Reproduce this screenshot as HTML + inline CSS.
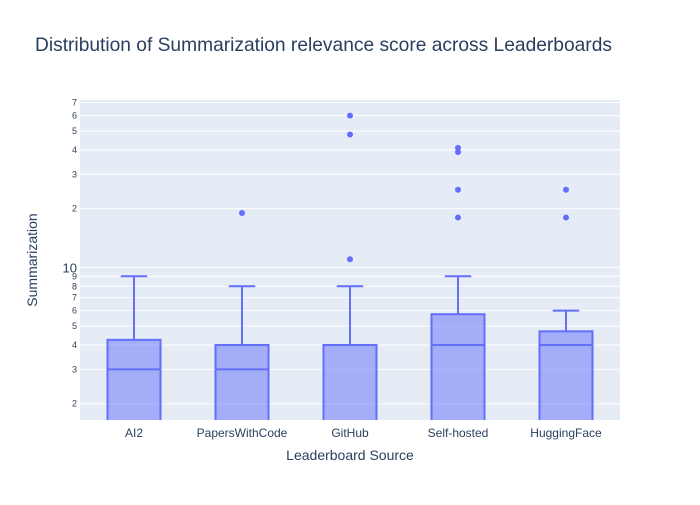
<!DOCTYPE html>
<html><head><meta charset="utf-8"><style>
body{margin:0;background:#fff;font-family:"Liberation Sans",sans-serif}
</style></head><body>
<svg id="c" width="700" height="500" xmlns="http://www.w3.org/2000/svg">
<defs><clipPath id="pc"><rect x="80" y="100" width="540" height="320"/></clipPath></defs>
<rect width="700" height="500" fill="#fff"/>
<text x="35" y="51" font-size="19.2" fill="#2a3f5f">Distribution of Summarization relevance score across Leaderboards</text>
<rect x="80" y="100" width="540" height="320" fill="#e5ecf6"/>
<g id="grid"></g><g id="marks" clip-path="url(#pc)"></g><g id="labels"></g>
<text x="350" y="460" font-size="14" fill="#2a3f5f" text-anchor="middle">Leaderboard Source</text>
<text x="37" y="260" font-size="14" fill="#2a3f5f" text-anchor="middle" transform="rotate(-90 37 260)">Summarization</text>
</svg>
<script>
const categories=["AI2","PapersWithCode","GitHub","Self-hosted","HuggingFace"];
const q1=[1,1,1,1,1];
const medians=[3,3,4,4,4];
const q3=[4.25,4,4,5.75,4.7];
const upperWhisker=[9,8,8,9,6];
const outliers=[[],[19],[60,48,11],[41,39,25,18],[25,18]];
const yTicks=[2,3,4,5,6,7,8,9,10,20,30,40,50,60,70];
const yTickLabels=["2","3","4","5","6","7","8","9","10","2","3","4","5","6","7"];
const NS="http://www.w3.org/2000/svg";
const X0=80,X1=620,Y0=100,Y1=420,ymin=Math.log10(1.65),ymax=Math.log10(72.1);
const y=v=>Y1-(Math.log10(v)-ymin)/(ymax-ymin)*(Y1-Y0);
const step=(X1-X0)/categories.length;
const x=i=>X0+step*(i+0.5);
function mk(tag,attrs,parent){const e=document.createElementNS(NS,tag);for(const k in attrs)e.setAttribute(k,attrs[k]);parent.appendChild(e);return e;}
const grid=document.getElementById('grid'),marks=document.getElementById('marks'),labels=document.getElementById('labels');
yTicks.forEach((t,i)=>{
 const g=mk('line',{x1:X0,x2:X1,y1:y(t),y2:y(t),stroke:'#fff','stroke-width':1},grid);
 
 
 const big=t===10;
 const tx=mk('text',{x:77,y:y(t)+(big?5:3),'font-size':big?13:9,fill:'#2a3f5f','text-anchor':'end'},labels);
 tx.textContent=yTickLabels[i];
 
 
});
const col='#636efa',hw=26.5;
categories.forEach((c,i)=>{
 const cx=x(i);
 const b=mk('rect',{x:cx-hw,y:y(q3[i]),width:2*hw,height:y(q1[i])-y(q3[i]),fill:'rgba(99,110,250,0.5)',stroke:col,'stroke-width':2},marks);
 
 
 const m=mk('line',{x1:cx-hw,x2:cx+hw,y1:y(medians[i]),y2:y(medians[i]),stroke:col,'stroke-width':2},marks);
 
 
 const w=mk('line',{x1:cx,x2:cx,y1:y(q3[i]),y2:y(upperWhisker[i]),stroke:col,'stroke-width':2},marks);
 
 
 const cap=mk('line',{x1:cx-hw/2,x2:cx+hw/2,y1:y(upperWhisker[i]),y2:y(upperWhisker[i]),stroke:col,'stroke-width':2},marks);
 
 
 outliers[i].forEach(v=>{
  const p=mk('circle',{cx:cx,cy:y(v),r:3,fill:col},marks);
  
  
 });
 const t=mk('text',{x:cx,y:437,'font-size':12,fill:'#2a3f5f','text-anchor':'middle'},labels);
 t.textContent=c;
 
 
});
</script>
</body></html>
